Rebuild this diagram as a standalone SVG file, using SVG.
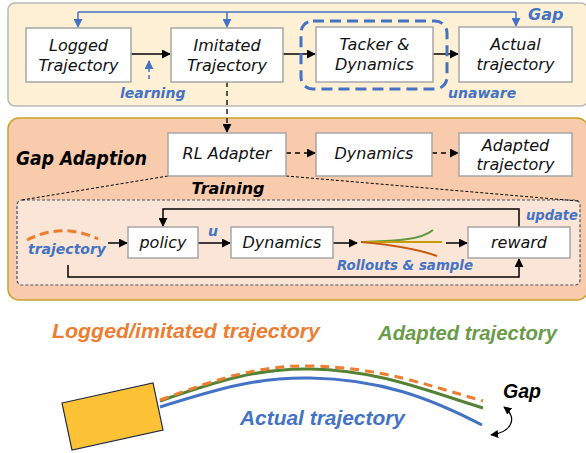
<svg xmlns="http://www.w3.org/2000/svg" width="586" height="453" viewBox="0 0 586 453">
<defs>
<style>
text{font-family:"DejaVu Sans","Noto Sans",sans-serif;font-style:italic}
.big{font-family:"Liberation Sans","DejaVu Sans",sans-serif;font-weight:bold;font-size:21px}
.box{fill:#fff;stroke:#a6a6a6;stroke-width:1.5}
.bt{font-size:16px;fill:#111;text-anchor:middle}
.blue{fill:#4472c4;font-weight:bold}
.ln{fill:none;stroke:#000;stroke-width:1.5}
.dl{fill:none;stroke:#000;stroke-width:1.3;stroke-dasharray:5 4}
.bl{fill:none;stroke:#4472c4;stroke-width:1.5}
</style>
<marker id="ah" viewBox="0 0 10 10" refX="9" refY="5" markerWidth="9" markerHeight="9" markerUnits="userSpaceOnUse" orient="auto"><path d="M0,0L10,5L0,10z" fill="#000"/></marker>
<marker id="bh" viewBox="0 0 10 10" refX="9" refY="5" markerWidth="9" markerHeight="9" markerUnits="userSpaceOnUse" orient="auto"><path d="M0,0L10,5L0,10z" fill="#4472c4"/></marker>
<marker id="ah2" viewBox="0 0 10 10" refX="9" refY="5" markerWidth="8" markerHeight="8" markerUnits="userSpaceOnUse" orient="auto-start-reverse"><path d="M0,0L10,5L0,10z" fill="#000"/></marker>
</defs>

<!-- panels -->
<rect x="8" y="3" width="580" height="103" rx="7" fill="#fdf0d5" stroke="#b8b8b8" stroke-width="1.5"/>
<rect x="8" y="118" width="580" height="182" rx="11" fill="#f8cbad" stroke="#c9a227" stroke-width="1.5"/>
<rect x="17" y="200" width="563" height="85" rx="5" fill="#fbe5d6" stroke="#44546a" stroke-width="1.2" stroke-dasharray="3 2"/>

<text x="16" y="165" font-size="19" font-weight="bold" fill="#000" textLength="131" lengthAdjust="spacingAndGlyphs">Gap Adaption</text>
<text x="228" y="194" font-size="16" font-weight="bold" fill="#000" text-anchor="middle">Training</text>

<!-- connectors -->
<g id="connectors">
<path class="bl" d="M78,12H516" />
<path class="bl" d="M78,12V27" marker-end="url(#bh)"/>
<path class="bl" d="M227,12V27" marker-end="url(#bh)"/>
<path class="bl" d="M516,12V26" marker-end="url(#bh)"/>
<path class="ln" d="M131,54H170" marker-end="url(#ah)"/>
<path class="ln" d="M283,54H315" marker-end="url(#ah)"/>
<path class="ln" d="M433,54H458" marker-end="url(#ah)"/>
<path d="M149,79V61" fill="none" stroke="#4472c4" stroke-width="1.5" stroke-dasharray="4 3" marker-end="url(#bh)"/>
<path class="dl" d="M227,82V132" marker-end="url(#ah)"/>
<path class="dl" d="M286,153H315" marker-end="url(#ah)"/>
<path class="dl" d="M432,153H458" marker-end="url(#ah)"/>
<path d="M168,176L22,200M286,176L578,201" fill="none" stroke="#000" stroke-width="1" stroke-dasharray="3 2"/>
<rect x="301" y="21" width="146" height="68" rx="12" fill="none" stroke="#4472c4" stroke-width="3" stroke-dasharray="11 6"/>
<path class="ln" d="M108,243H127" marker-end="url(#ah)"/>
<path class="ln" d="M198,243H230" marker-end="url(#ah)"/>
<path class="ln" d="M333,243H357" marker-end="url(#ah)"/>
<path class="ln" d="M446,243H467" marker-end="url(#ah)"/>
<path class="ln" d="M519,227V209H163V226" marker-end="url(#ah)"/>
<path class="ln" d="M68,265V277H519V259" marker-end="url(#ah)"/>
<path d="M361,242C390,241 420,241 433,230" fill="none" stroke="#5e9a3e" stroke-width="2"/>
<path d="M361,242H442" fill="none" stroke="#c89b00" stroke-width="2"/>
<path d="M361,242C395,245 420,250 437,256" fill="none" stroke="#c55a11" stroke-width="2"/>
<path d="M27,240Q62,222 98,239" fill="none" stroke="#ed7d31" stroke-width="3" stroke-dasharray="9 5"/>
</g>

<!-- top nodes -->
<g id="logged"><rect class="box" x="26" y="28" width="105" height="54"/><text class="bt" x="78.5" y="51">Logged</text><text class="bt" x="78.5" y="71">Trajectory</text></g>
<g id="imitated"><rect class="box" x="171" y="28" width="112" height="54"/><text class="bt" x="227" y="51">Imitated</text><text class="bt" x="227" y="71">Trajectory</text></g>
<g id="tacker"><rect class="box" x="316" y="27" width="117" height="55"/><text class="bt" x="374.5" y="50">Tacker &amp;</text><text class="bt" x="374.5" y="70">Dynamics</text></g>
<g id="actual"><rect class="box" x="459" y="27" width="113" height="55"/><text class="bt" x="515.5" y="50">Actual</text><text class="bt" x="515.5" y="70">trajectory</text></g>
<text class="blue" x="528" y="20" font-size="16">Gap</text>
<text class="blue" x="120" y="98" font-size="14">learning</text>
<text class="blue" x="448" y="98" font-size="14">unaware</text>

<!-- gap adaption nodes -->
<g id="rl"><rect class="box" x="168" y="133" width="118" height="43"/><text class="bt" x="227" y="159">RL Adapter</text></g>
<g id="dyn1"><rect class="box" x="316" y="133" width="116" height="43"/><text class="bt" x="374" y="159">Dynamics</text></g>
<g id="adapted"><rect class="box" x="459" y="133" width="113" height="43"/><text class="bt" x="515.5" y="151">Adapted</text><text class="bt" x="515.5" y="170">trajectory</text></g>

<!-- training nodes -->
<g id="policy"><rect class="box" x="128" y="227" width="70" height="31"/><text class="bt" x="163" y="248">policy</text></g>
<g id="dyn2"><rect class="box" x="231" y="227" width="102" height="31"/><text class="bt" x="282" y="248">Dynamics</text></g>
<g id="reward"><rect class="box" x="468" y="227" width="102" height="31"/><text class="bt" x="519" y="248">reward</text></g>
<text class="blue" x="28" y="254" font-size="14">trajectory</text>
<text class="blue" x="208" y="236" font-size="14">u</text>
<text class="blue" x="337" y="270" font-size="14" textLength="136" lengthAdjust="spacingAndGlyphs">Rollouts &amp; sample</text>
<text class="blue" x="526" y="220" font-size="14" textLength="52" lengthAdjust="spacingAndGlyphs">update</text>

<!-- bottom scene -->
<text class="big" x="52" y="338" fill="#ed7d31" textLength="268" lengthAdjust="spacingAndGlyphs">Logged/imitated trajectory</text>
<text class="big" x="378" y="340" fill="#6a9b4a" textLength="179" lengthAdjust="spacingAndGlyphs">Adapted trajectory</text>
<polygon points="62,403 153,383 163,430 72,450" fill="#fdc235" stroke="#1f2a44" stroke-width="1.2"/>
<path d="M160,407C220,388 260,377 310,378C380,379 430,398 482,425" fill="none" stroke="#4472c4" stroke-width="3"/>
<path d="M160,401C220,380 260,368 310,369C380,370 430,392 483,408" fill="none" stroke="#548235" stroke-width="3"/>
<path d="M160,400C220,378 260,365 310,366C380,367 430,386 483,401" fill="none" stroke="#ed7d31" stroke-width="3" stroke-dasharray="9 6"/>
<text class="big" x="240" y="425" fill="#4472c4" textLength="165" lengthAdjust="spacingAndGlyphs">Actual trajectory</text>
<text class="big" x="503" y="398" fill="#000" textLength="38" lengthAdjust="spacingAndGlyphs">Gap</text>
<path d="M504,407C518,418 512,432 491,435" fill="none" stroke="#000" stroke-width="1.2" marker-start="url(#ah2)" marker-end="url(#ah2)"/>
</svg>
